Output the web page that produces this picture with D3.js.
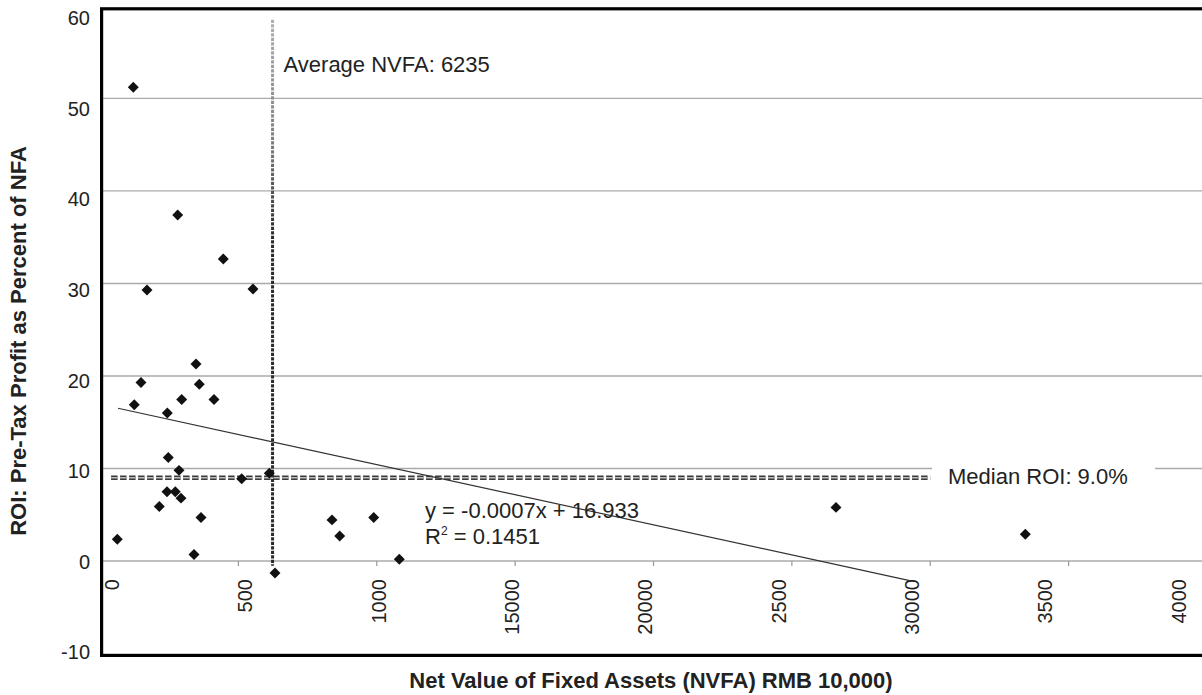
<!DOCTYPE html>
<html>
<head>
<meta charset="utf-8">
<script src="https://cdn.jsdelivr.net/npm/d3@7"></script>
<style>
  body { margin: 0; background: #fff; }
  svg { display: block; font-family: "Liberation Sans", Arial, Helvetica, sans-serif; }
</style>
</head>
<body>
<svg id="chart" width="1202" height="695"></svg>
<script>
// Net value of fixed assets (RMB 10,000) and pre-tax ROI (%) per firm
const nvfa = [1203, 2808, 4455, 1698, 5528, 3469, 1481, 3588, 1239, 2952,
              4119, 2432, 2468, 2855, 5120, 6117, 2421, 2721, 2927, 2143,
              3650, 625, 3397, 6323, 8383, 8662, 9890, 10815, 26594, 33435];
const roi  = [51.2, 37.4, 32.65, 29.3, 29.4, 21.3, 19.3, 19.1, 16.9, 17.45,
              17.45, 16.0, 11.2, 9.8, 8.9, 9.5, 7.5, 7.5, 6.8, 5.9,
              4.7, 2.35, 0.7, -1.3, 4.45, 2.7, 4.7, 0.2, 5.8, 2.9];

// Axis ticks and their printed labels
const xTickValues = [0, 5000, 10000, 15000, 20000, 25000, 30000, 35000, 40000];
const xTickLabels = ["0", "500", "1000", "15000", "20000", "2500", "30000", "3500", "4000"];
const yTickValues = [-10, 0, 10, 20, 30, 40, 50, 60];
const gridValues  = [0, 10, 20, 30, 40, 50];

// Reference lines and linear trend
const averageNVFA = 6235;
const medianROI = 9.0;
const medianSpan = [400, 30000];
const averageSpan = [-0.5, 58.5];
const trendSlope = -0.000651;
const trendIntercept = 16.933;
const rSquared = 0.1451;
const trendSpan = [650, 29300];

const svg = d3.select("#chart");
const textColor = "#222";
const fontStack = "Liberation Sans, Arial, sans-serif";

const x = d3.scaleLinear().domain([0, 40000]).range([100, 1207]);
const y = d3.scaleLinear().domain([-10, 60]).range([653.6, 5.8]);
// label placement scales for the printed tick text
const xLabelPos = d3.scaleLinear().domain([0, 40000]).range([111.7, 1178]);
const yLabelPos = d3.scaleLinear().domain([-10, 60]).range([652.5, 18.3]);

// horizontal gridlines
svg.append("g").selectAll("line").data(gridValues).join("line")
  .attr("x1", x(0)).attr("x2", 1202)
  .attr("y1", d => y(d)).attr("y2", d => y(d))
  .attr("stroke", "#aaa").attr("stroke-width", 1.4);

// x tick marks hanging below the zero line
svg.append("g").selectAll("line").data(xTickValues.slice(1, -1)).join("line")
  .attr("x1", d => x(d)).attr("x2", d => x(d))
  .attr("y1", y(0)).attr("y2", y(0) + 5)
  .attr("stroke", "#999").attr("stroke-width", 1.2);

// plot frame
svg.append("rect")
  .attr("x", 101.6).attr("y", 8.8).attr("width", 1130).attr("height", 646.6)
  .attr("fill", "none").attr("stroke", "#000").attr("stroke-width", 3.2);

// y tick labels
const yAxis = d3.axisLeft(yLabelPos).tickValues(yTickValues)
  .tickFormat(d => String(d)).tickSize(0).tickPadding(0);
const gy = svg.append("g").attr("transform", "translate(90,0)").call(yAxis);
gy.select(".domain").remove();
gy.attr("font-size", 20).attr("font-family", fontStack);
gy.selectAll("text").attr("fill", textColor);

// x tick labels, rotated
const labelMap = new Map(xTickValues.map((v, i) => [v, xTickLabels[i]]));
const xAxis = d3.axisBottom(xLabelPos).tickValues(xTickValues)
  .tickFormat(d => labelMap.get(d)).tickSize(0).tickPadding(0);
const gx = svg.append("g").attr("transform", "translate(0,579)").call(xAxis);
gx.select(".domain").remove();
gx.attr("font-size", 20).attr("font-family", fontStack);
gx.selectAll("text")
  .attr("fill", textColor)
  .attr("transform", "rotate(-90)")
  .attr("text-anchor", "end")
  .attr("x", 0).attr("y", 0).attr("dy", "0.35em");

// median ROI reference line (hollow dashes)
const medLine = svg.append("g");
[["#3a3a3a", 4.6], ["#bdbdbd", 1.3]].forEach(([c, w]) => {
  medLine.append("line")
    .attr("x1", x(medianSpan[0])).attr("x2", x(medianSpan[1]))
    .attr("y1", y(medianROI)).attr("y2", y(medianROI))
    .attr("stroke", c).attr("stroke-width", w).attr("stroke-dasharray", "6.5,2.5");
});

// white backing and label for the median line
const medLabelX = 948;
svg.append("rect")
  .attr("x", 932).attr("y", y(medianROI) - 17).attr("width", 223).attr("height", 34)
  .attr("fill", "#fff");
svg.append("text")
  .attr("x", medLabelX).attr("y", y(medianROI) + 6.5)
  .attr("font-size", 22).attr("fill", textColor)
  .text(`Median ROI: ${medianROI.toFixed(1)}%`);

// average NVFA reference line, fading lighter toward the top
const defs = svg.append("defs");
const grad = defs.append("linearGradient").attr("id", "avgFade")
  .attr("gradientUnits", "userSpaceOnUse")
  .attr("x1", 0).attr("x2", 0).attr("y1", y(averageSpan[1])).attr("y2", y(averageSpan[0]));
grad.append("stop").attr("offset", 0).attr("stop-color", "#b0b0b0");
grad.append("stop").attr("offset", 0.22).attr("stop-color", "#808080");
grad.append("stop").attr("offset", 0.4).attr("stop-color", "#2a2a2a");
grad.append("stop").attr("offset", 1).attr("stop-color", "#2a2a2a");
svg.append("line")
  .attr("x1", x(averageNVFA)).attr("x2", x(averageNVFA))
  .attr("y1", y(averageSpan[1])).attr("y2", y(averageSpan[0]))
  .attr("stroke", "url(#avgFade)").attr("stroke-width", 3)
  .attr("stroke-dasharray", "3.2,1.3");
svg.append("text")
  .attr("x", x(averageNVFA) + 11).attr("y", 71.5)
  .attr("font-size", 22).attr("fill", textColor)
  .text(`Average NVFA: ${averageNVFA}`);

// linear trendline
svg.append("line")
  .attr("x1", x(trendSpan[0])).attr("y1", y(trendIntercept + trendSlope * trendSpan[0]))
  .attr("x2", x(trendSpan[1])).attr("y2", y(trendIntercept + trendSlope * trendSpan[1]))
  .attr("stroke", "#333").attr("stroke-width", 1.2);

// trend equation
const eq = svg.append("text").attr("x", 425).attr("y", 517.5)
  .attr("font-size", 22).attr("fill", textColor);
eq.text(`y = ${trendSlope.toFixed(4)}x + ${trendIntercept.toFixed(3)}`);
const r2 = svg.append("text").attr("x", 425).attr("y", 543.5)
  .attr("font-size", 22).attr("fill", textColor);
r2.append("tspan").text("R");
r2.append("tspan").attr("font-size", 12).attr("dy", -9).text("2");
r2.append("tspan").attr("dy", 9).text(` = ${rSquared}`);

// data points as diamonds
const diamond = d3.symbol().type(d3.symbolSquare).size(60);
svg.append("g").selectAll("path").data(nvfa.map((v, i) => [v, roi[i]])).join("path")
  .attr("d", diamond)
  .attr("transform", d => `translate(${x(d[0])},${y(d[1])}) rotate(45)`)
  .attr("fill", "#111");

// axis titles
svg.append("text")
  .attr("transform", "translate(26,341) rotate(-90)")
  .attr("text-anchor", "middle")
  .attr("font-size", 22).attr("font-weight", "bold").attr("fill", textColor)
  .text("ROI: Pre-Tax Profit as Percent of NFA");
svg.append("text")
  .attr("x", 651).attr("y", 688)
  .attr("text-anchor", "middle")
  .attr("font-size", 22).attr("font-weight", "bold").attr("fill", textColor)
  .text("Net Value of Fixed Assets (NVFA) RMB 10,000)");
</script>
</body>
</html>
